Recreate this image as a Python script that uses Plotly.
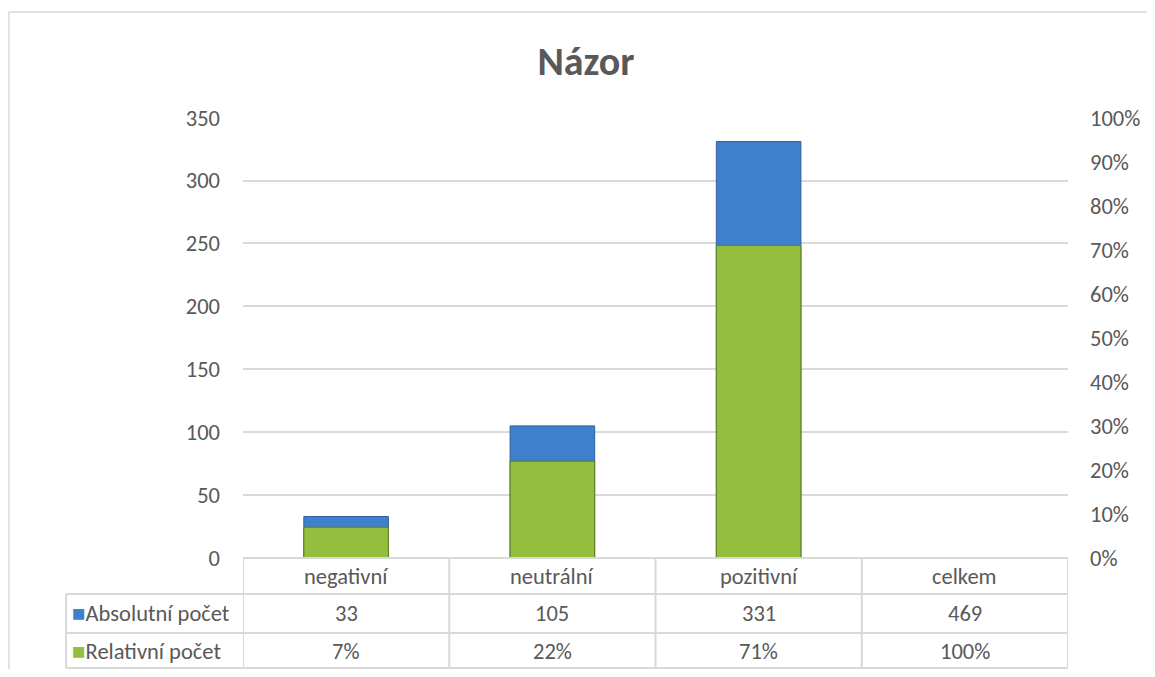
import plotly.graph_objects as go

categories = ["negativní", "neutrální", "pozitivní", "celkem"]
absolutni = [33, 105, 331, 469]
relativni = [0.07, 0.22, 0.71, 1.00]
# bars are shown for the three opinion categories only (the total column is table-only)
bar_mask = [True, True, True, False]
series_names = ["Absolutní počet", "Relativní počet"]
left_ticks = [0, 50, 100, 150, 200, 250, 300, 350]
right_ticks = [0, 0.1, 0.2, 0.3, 0.4, 0.5, 0.6, 0.7, 0.8, 0.9, 1.0]

# page is 1155x677; the browser body adds an 8px margin, so the figure is sized to fit
PAGE_OFF = 8
W, H = 1155 - 2 * PAGE_OFF, 677 - 2 * PAGE_OFF
BLUE = "#3F80CD"
GREEN = "#93BE3E"
GRID = "#D9D9D9"
TXT = "#595959"
FONT = "Calibri, Carlito, Lato, sans-serif"
FS = 22.5

def px(x):
    return (x - PAGE_OFF) / W

def py(y):
    return 1 - (y - PAGE_OFF) / H

x0p, x1p = px(243), px(1068)
ytop, ybot = py(117), py(558)
EXT = 1.0015  # tiny headroom so the top gridline is drawn

fig = go.Figure()
fig.add_trace(go.Bar(
    x=categories,
    y=[v if m else None for v, m in zip(absolutni, bar_mask)],
    name=series_names[0], width=0.41, yaxis="y",
    marker=dict(color=BLUE, line=dict(color="#2F5F9C", width=1)),
    hoverinfo="x+y",
))
fig.add_trace(go.Bar(
    x=categories,
    y=[v if m else None for v, m in zip(relativni, bar_mask)],
    name=series_names[1], width=0.41, yaxis="y2",
    marker=dict(color=GREEN, line=dict(color="#5E7F22", width=1)),
    hoverinfo="x+y",
))

shapes = []
# chart outer border (top and left edges visible)
shapes.append(dict(type="line", xref="paper", yref="paper",
                   x0=0.0008, x1=0.0008, y0=-0.01, y1=py(12),
                   line=dict(color=GRID, width=1.5)))
shapes.append(dict(type="line", xref="paper", yref="paper",
                   x0=0.0008, x1=1.02, y0=py(12), y1=py(12),
                   line=dict(color=GRID, width=1.5)))

# table geometry (row boundaries in pixels)
row_y = [558, 594, 633, 668]
tbl_left = 66
shapes.append(dict(type="line", xref="paper", yref="paper", x0=x0p, x1=x1p,
                   y0=py(row_y[0]), y1=py(row_y[0]), line=dict(color=GRID, width=2)))
for r in row_y[1:]:
    shapes.append(dict(type="line", xref="paper", yref="paper", x0=px(tbl_left), x1=x1p,
                       y0=py(r), y1=py(r), line=dict(color=GRID, width=2)))
for i in range(len(categories) + 1):
    shapes.append(dict(type="line", xref="x", yref="paper", x0=i - 0.5, x1=i - 0.5,
                       y0=py(row_y[0]), y1=py(row_y[-1]), line=dict(color=GRID, width=2)))
shapes.append(dict(type="line", xref="paper", yref="paper", x0=px(tbl_left), x1=px(tbl_left),
                   y0=py(row_y[1]), y1=py(row_y[-1]), line=dict(color=GRID, width=2)))

annotations = []
row_centers = [576, 613, 651]

for i, c in enumerate(categories):
    texts = [c, str(absolutni[i]), f"{relativni[i]*100:.0f}%"]
    for t, yc in zip(texts, row_centers):
        annotations.append(dict(x=c, xref="x", y=py(yc), yref="paper", text=t,
                                showarrow=False, yanchor="middle",
                                font=dict(family=FONT, size=FS, color=TXT)))
for k, (name, col) in enumerate(zip(series_names, [BLUE, GREEN])):
    annotations.append(dict(x=px(70), xref="paper", y=py(row_centers[k + 1]),
                            yref="paper", xanchor="left", yanchor="middle",
                            text=f"<span style='color:{col}'>■</span>{name}",
                            showarrow=False, font=dict(family=FONT, size=FS, color=TXT)))

fig.update_layout(
    width=W, height=H,
    margin=dict(l=0, r=0, t=0, b=0, autoexpand=False),
    paper_bgcolor="white", plot_bgcolor="white",
    barmode="overlay",
    showlegend=False,
    title=dict(text="<b>Názor</b>", x=px(586), xanchor="center", y=py(61), yanchor="middle",
               font=dict(family=FONT, size=40, color=TXT)),
    xaxis=dict(domain=[x0p, x1p], range=[-0.5, 3.5], showticklabels=False,
               showgrid=False, zeroline=False, showline=False, ticks=""),
    yaxis=dict(domain=[ybot, ytop], range=[0, 350 * EXT], tickvals=left_ticks,
               showgrid=True, gridcolor=GRID, gridwidth=1.5, zeroline=False,
               showline=False, ticks="", ticklabelstandoff=22,
               tickfont=dict(family=FONT, size=FS, color=TXT)),
    yaxis2=dict(domain=[ybot, ytop], range=[0, 1 * EXT], tickvals=right_ticks, tickformat=".0%",
                overlaying="y", side="right", anchor="x",
                showgrid=False, zeroline=False, showline=False, ticks="",
                ticklabelstandoff=21,
                tickfont=dict(family=FONT, size=FS, color=TXT)),
    shapes=shapes,
    annotations=annotations,
)

fig.write_html("out.html")
